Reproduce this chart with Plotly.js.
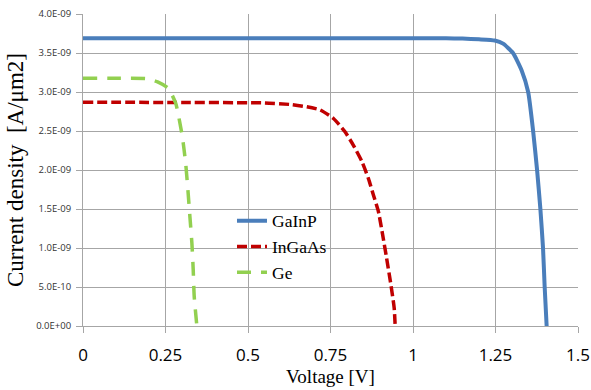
<!DOCTYPE html>
<html>
<head>
<meta charset="utf-8">
<script src="https://cdn.plot.ly/plotly-3.0.1.min.js"></script>
<style>html,body{margin:0;padding:0;background:#fff;}#chart{width:591px;height:390px;}</style>
</head>
<body>
<div id="chart"></div>
<script>
// Voltage [V] and current density [A/µm2]
const gainpV = [0, 0.5, 1.0, 1.1, 1.15, 1.2, 1.248, 1.273, 1.303, 1.329, 1.349, 1.364, 1.376, 1.386, 1.394, 1.399, 1.405];
const gainpJ = [3.69e-9, 3.69e-9, 3.69e-9, 3.688e-9, 3.685e-9, 3.675e-9, 3.66e-9, 3.62e-9, 3.50e-9, 3.28e-9, 3.00e-9, 2.50e-9, 2.00e-9, 1.50e-9, 1.00e-9, 0.50e-9, 0];

const ingaasV = [0, 0.3, 0.55, 0.628, 0.678, 0.719, 0.759, 0.794, 0.819, 0.845, 0.865, 0.880, 0.895, 0.908, 0.920, 0.933, 0.943, 0.946];
const ingaasJ = [2.87e-9, 2.865e-9, 2.86e-9, 2.84e-9, 2.81e-9, 2.77e-9, 2.66e-9, 2.49e-9, 2.32e-9, 2.11e-9, 1.89e-9, 1.68e-9, 1.47e-9, 1.17e-9, 0.87e-9, 0.53e-9, 0.23e-9, 0];

const geV = [0, 0.1, 0.196, 0.226, 0.258, 0.281, 0.301, 0.311, 0.318, 0.324, 0.330, 0.334, 0.337, 0.345];
const geJ = [3.175e-9, 3.175e-9, 3.17e-9, 3.13e-9, 3.05e-9, 2.855e-9, 2.43e-9, 2.09e-9, 1.74e-9, 1.40e-9, 1.06e-9, 0.72e-9, 0.38e-9, 0];

const seriesNames = ["GaInP", "InGaAs", "Ge"];
const yTickVals = [0, 0.5e-9, 1.0e-9, 1.5e-9, 2.0e-9, 2.5e-9, 3.0e-9, 3.5e-9, 4.0e-9];
const yTickText = ["0.0E+00", "5.0E-10", "1.0E-09", "1.5E-09", "2.0E-09", "2.5E-09", "3.0E-09", "3.5E-09", "4.0E-09"];
const xTickVals = [0, 0.25, 0.5, 0.75, 1, 1.25, 1.5];
const xTickText = ["0", "0.25", "0.5", "0.75", "1", "1.25", "1.5"];

const traces = [
  {x: gainpV, y: gainpJ, name: seriesNames[0], mode: "lines", line: {color: "#4a7ebb", width: 4, shape: "spline", smoothing: 0.5}},
  {x: ingaasV, y: ingaasJ, name: seriesNames[1], mode: "lines", line: {color: "#c00000", width: 3.5, dash: "10px,4px", shape: "spline", smoothing: 0.5}},
  {x: geV, y: geJ, name: seriesNames[2], mode: "lines", line: {color: "#92d050", width: 3.5, dash: "14px,10px", shape: "spline", smoothing: 0.5}}
];

const grid = "#a6a6a6";
const layout = {
  width: 591, height: 390,
  margin: {l: 82.5, r: 12.7, t: 14, b: 64},
  paper_bgcolor: "#fff", plot_bgcolor: "#fff",
  showlegend: true,
  legend: {x: 0.301, y: 0.395, xanchor: "left", yanchor: "top", bgcolor: "rgba(0,0,0,0)",
           font: {family: "Liberation Serif", size: 17.5, color: "#000"}, itemwidth: 30},
  xaxis: {range: [0, 1.5], tickvals: xTickVals, ticktext: xTickText,
          showgrid: true, gridcolor: grid, gridwidth: 1, zeroline: false,
          showline: true, linecolor: grid, linewidth: 1,
          ticks: "outside", ticklen: 6, tickcolor: grid, ticklabelstandoff: 8,
          tickfont: {family: "Open Sans", size: 17, color: "#000"},
          title: {text: "Voltage [V]", font: {family: "Liberation Serif", size: 19, color: "#000"}, standoff: 4}},
  yaxis: {range: [0, 4e-9], tickvals: yTickVals, ticktext: yTickText,
          showgrid: true, gridcolor: grid, gridwidth: 1, zeroline: false,
          showline: true, linecolor: grid, linewidth: 1,
          ticks: "outside", ticklen: 6, tickcolor: grid, ticklabelstandoff: 3,
          tickfont: {family: "Open Sans", size: 9.5, color: "#333"},
          title: {text: "Current density  [A/μm2]", font: {family: "Liberation Serif", size: 23, color: "#000"}, standoff: 6}}
};

Plotly.newPlot("chart", traces, layout, {displayModeBar: false, staticPlot: true});
</script>
</body>
</html>
